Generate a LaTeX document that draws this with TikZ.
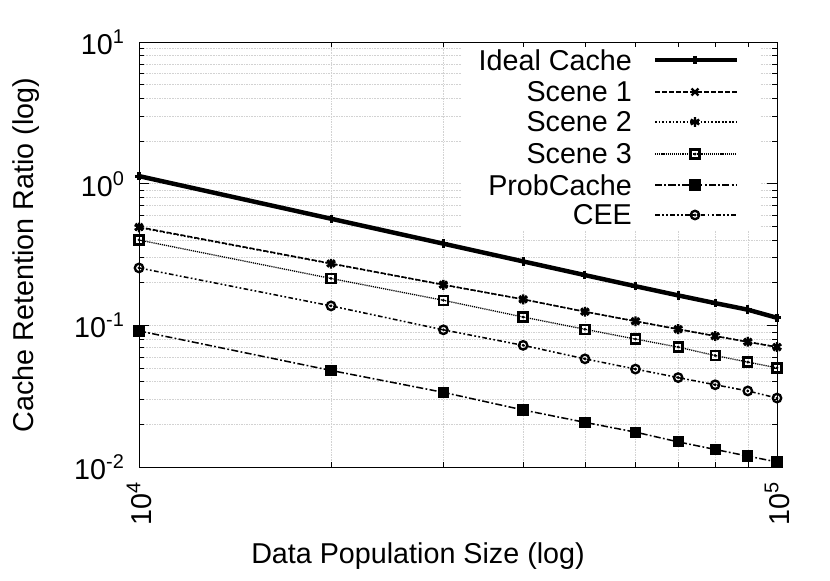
\documentclass[tikz,border=0pt]{standalone}
\usepackage{fontspec}
\setmainfont{Liberation Sans}
\usetikzlibrary{plotmarks}
\begin{document}
\begin{tikzpicture}[x=0.03cm,y=-0.03cm,
  declare function={X(\k)=139+638*ln(\k)/ln(10); Y(\v)=467-141.7*(ln(\v)/ln(10)+2);},
  lab/.style={font=\fontsize{24.5}{28}\selectfont},
  grd/.style={gray!35,densely dotted,line width=0.4pt},
  ser/.style={black,line width=1.3pt,mark size=4.2pt,mark options={solid,line width=2pt}},
  ideal/.style={ser,line width=3.8pt,mark=+,mark options={solid,line width=2.6pt},mark size=3.6pt},
  s1/.style={ser,dash pattern=on 4pt off 2pt,mark=x},
  s2/.style={ser,dash pattern=on 1.5pt off 1.5pt,mark=asterisk},
  s3/.style={ser,line width=1.1pt,dash pattern=on 1pt off 0.8pt,mark=square,mark size=3.8pt},
  pc/.style={ser,dash pattern=on 6pt off 2pt on 1.5pt off 2pt,mark=square*,mark size=3.8pt},
  cee/.style={ser,dash pattern=on 4pt off 2pt on 1.5pt off 2pt on 1.5pt off 2pt,mark=o,mark size=3.6pt},
  dotm/.style={only marks,mark=*,mark size=1pt}]
\useasboundingbox (0,0) rectangle (830,581);
\fill[white] (0,0) rectangle (830,581);
% grid
\foreach \k in {2,...,9}{\draw[grd] ({X(\k)},42) -- ({X(\k)},467);}
\foreach \d in {0,1,2}{\foreach \m in {2,...,9}{
  \pgfmathsetmacro\yy{467-141.7*(\d+ln(\m)/ln(10))}
  \draw[grd] (139,\yy) -- (777,\yy);}}
\foreach \d in {1,2}{\draw[grd] (139,{467-141.7*\d}) -- (777,{467-141.7*\d});}
% legend background
\fill[white] (462,46) rectangle (760,230);
% ticks
\foreach \d in {0,1,2,3}{
  \pgfmathsetmacro\yy{467-141.7*\d}
  \draw (139,\yy) -- (149,\yy); \draw (777,\yy) -- (767,\yy);
  \ifnum\d<3 \foreach \m in {2,...,9}{
    \pgfmathsetmacro\ym{\yy-141.7*ln(\m)/ln(10)}
    \draw (139,\ym) -- (144,\ym); \draw (777,\ym) -- (772,\ym);}\fi}
\foreach \k in {2,...,9}{\draw ({X(\k)},467) -- ({X(\k)},462); \draw ({X(\k)},42) -- ({X(\k)},47);}
\node[lab,anchor=east] (y1) at (128,42) {10\raisebox{0.7ex}{\fontsize{17}{19}\selectfont 1}};
\node[lab,anchor=east] (y0) at (128,184) {10\raisebox{0.7ex}{\fontsize{17}{19}\selectfont 0}};
\node[lab,anchor=east] (ym1) at (128,325) {10\raisebox{0.7ex}{\fontsize{17}{19}\selectfont -1}};
\node[lab,anchor=east] (ym2) at (128,467) {10\raisebox{0.7ex}{\fontsize{17}{19}\selectfont -2}};
\node[lab,anchor=east,rotate=90] (x4) at (139,478) {10\raisebox{0.7ex}{\fontsize{17}{19}\selectfont 4}};
\node[lab,anchor=east,rotate=90] (x5) at (777,478) {10\raisebox{0.7ex}{\fontsize{17}{19}\selectfont 5}};
\node[lab] (xl) at (418,556) {Data Population Size (log)};
\node[lab,rotate=90] (yl) at (26,255) {Cache Retention Ratio (log)};
% data
\draw[ideal] plot[samples at={1,...,10}] ({X(\x)},{Y(1.13*\x^(-1))});
\draw[s1] plot[samples at={1,...,10}] ({X(\x)},{Y(0.494*\x^(-0.855))});
\draw[s2] plot[samples at={1,...,10}] ({X(\x)},{Y(0.49*\x^(-0.85))});
\draw[s3] plot[samples at={1,...,10}] ({X(\x)},{Y(0.40*\x^(-0.903))});
\draw[black] plot[dotm,samples at={1,...,10}] ({X(\x)},{Y(0.40*\x^(-0.903))});
\draw[pc] plot[samples at={1,...,10}] ({X(\x)},{Y(0.091*\x^(-0.925))});
\draw[cee] plot[samples at={1,...,10}] ({X(\x)},{Y(0.254*\x^(-0.918))});
\draw[black] plot[dotm,samples at={1,...,10}] ({X(\x)},{Y(0.254*\x^(-0.918))});
% frame
\draw[line width=0.8pt] (139,42) rectangle (777,467);
% legend
\foreach \t/\s/\yy [count=\i] in {Ideal Cache/ideal/60,Scene 1/s1/92,Scene 2/s2/122,Scene 3/s3/154,ProbCache/pc/185,CEE/cee/215}{
  \node[lab,anchor=east] (leg\i) at (636,\yy) {\t};
  \draw[\s,mark=none] (655,\yy) -- (737,\yy);
  \draw[\s] plot[only marks] coordinates {(695,\yy)};
}
\draw[black] plot[dotm] coordinates {(695,154) (695,215)};
\end{tikzpicture}
\end{document}
